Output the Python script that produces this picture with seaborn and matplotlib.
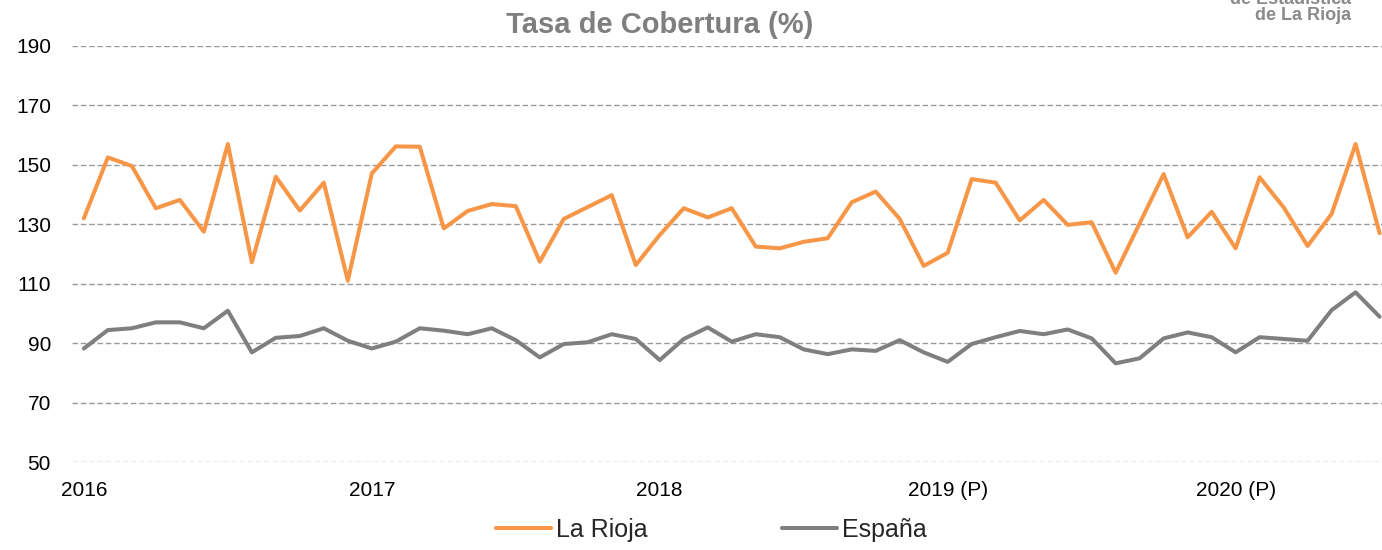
import pandas as pd
import matplotlib
matplotlib.use('Agg')
import matplotlib.pyplot as plt
import seaborn as sns

# Datos mensuales ene-2016 a jul-2020 (tasa de cobertura, %)
la_rioja = [132.0, 152.5, 149.6, 135.4, 138.2, 127.5, 157.0, 117.2, 146.0, 134.6, 144.0, 111.0,
            147.1, 156.2, 156.1, 128.6, 134.5, 136.8, 136.1, 117.4, 131.8, 135.8, 139.8, 116.3,
            126.4, 135.4, 132.3, 135.4, 122.5, 121.9, 124.1, 125.3, 137.4, 141.0, 131.8, 116.0,
            120.4, 145.2, 144.0, 131.3, 138.2, 129.8, 130.7, 113.7, 130.3, 146.9, 125.6, 134.2,
            121.9, 145.8, 135.7, 122.7, 133.5, 157.0, 127.0]
espana = [88.2, 94.4, 95.0, 97.0, 97.0, 95.0, 100.9, 86.9, 91.8, 92.4, 95.0, 90.8,
          88.2, 90.5, 95.0, 94.2, 93.0, 95.0, 91.0, 85.2, 89.7, 90.3, 93.0, 91.4,
          84.3, 91.4, 95.3, 90.5, 93.0, 92.0, 87.9, 86.3, 87.9, 87.4, 91.0, 86.9,
          83.7, 89.7, 92.0, 94.1, 93.0, 94.6, 91.6, 83.2, 84.9, 91.6, 93.6, 92.0,
          86.9, 92.0, 91.4, 90.8, 101.1, 107.1, 98.9]
etiquetas_x = ['2016', '2017', '2018', '2019 (P)', '2020 (P)']
ticks_y = [50, 70, 90, 110, 130, 150, 170, 190]

mes = list(range(len(la_rioja)))
df = pd.DataFrame({
    'mes': mes + mes,
    'valor': la_rioja + espana,
    'serie': ['La Rioja'] * len(mes) + ['España'] * len(mes),
})

sns.set_style('white')
plt.rcParams['font.family'] = ['Liberation Sans', 'DejaVu Sans']

fig = plt.figure(figsize=(13.82, 5.5), dpi=100)
ax = fig.add_axes([0.052, 0.16, 0.948, 0.7564])

sns.lineplot(data=df, x='mes', y='valor', hue='serie',
             palette={'La Rioja': '#F79646', 'España': '#7F7F7F'},
             linewidth=2.9, ax=ax, legend=True)

ax.set_xlim(-0.5, 54.1)
ax.set_ylim(50, 190)
ax.set_yticks(ticks_y)
ax.set_xticks([0, 12, 24, 36, 48])
ax.set_xticklabels(etiquetas_x)
ax.tick_params(axis='both', length=0, labelsize=15, colors='black')
ax.tick_params(axis='x', pad=14)
ax.tick_params(axis='y', pad=15)
ax.grid(axis='y', color='#9a9a9a', linestyle=(0, (4, 2)), linewidth=1)
ax.set_axisbelow(True)
for s in ax.spines.values():
    s.set_visible(False)
ax.set_xlabel('')
ax.set_ylabel('')

ax.set_title('Tasa de Cobertura (%)', fontsize=21, fontweight='bold', color='#7F7F7F', pad=9, x=0.449)

leg = ax.legend(loc='center', bbox_to_anchor=(0.488, -0.163), ncol=2, frameon=False,
                fontsize=18, handlelength=2.2, handletextpad=0.2, columnspacing=5.4)

# logo (texto parcial)
fig.text(0.978, 1.0, 'de Estadística', ha='right', va='center', fontsize=13,
         fontweight='bold', color='#8a8a8a')
fig.text(0.978, 0.972, 'de La Rioja', ha='right', va='center', fontsize=13,
         fontweight='bold', color='#8a8a8a')

fig.savefig('out.png', dpi=100)
